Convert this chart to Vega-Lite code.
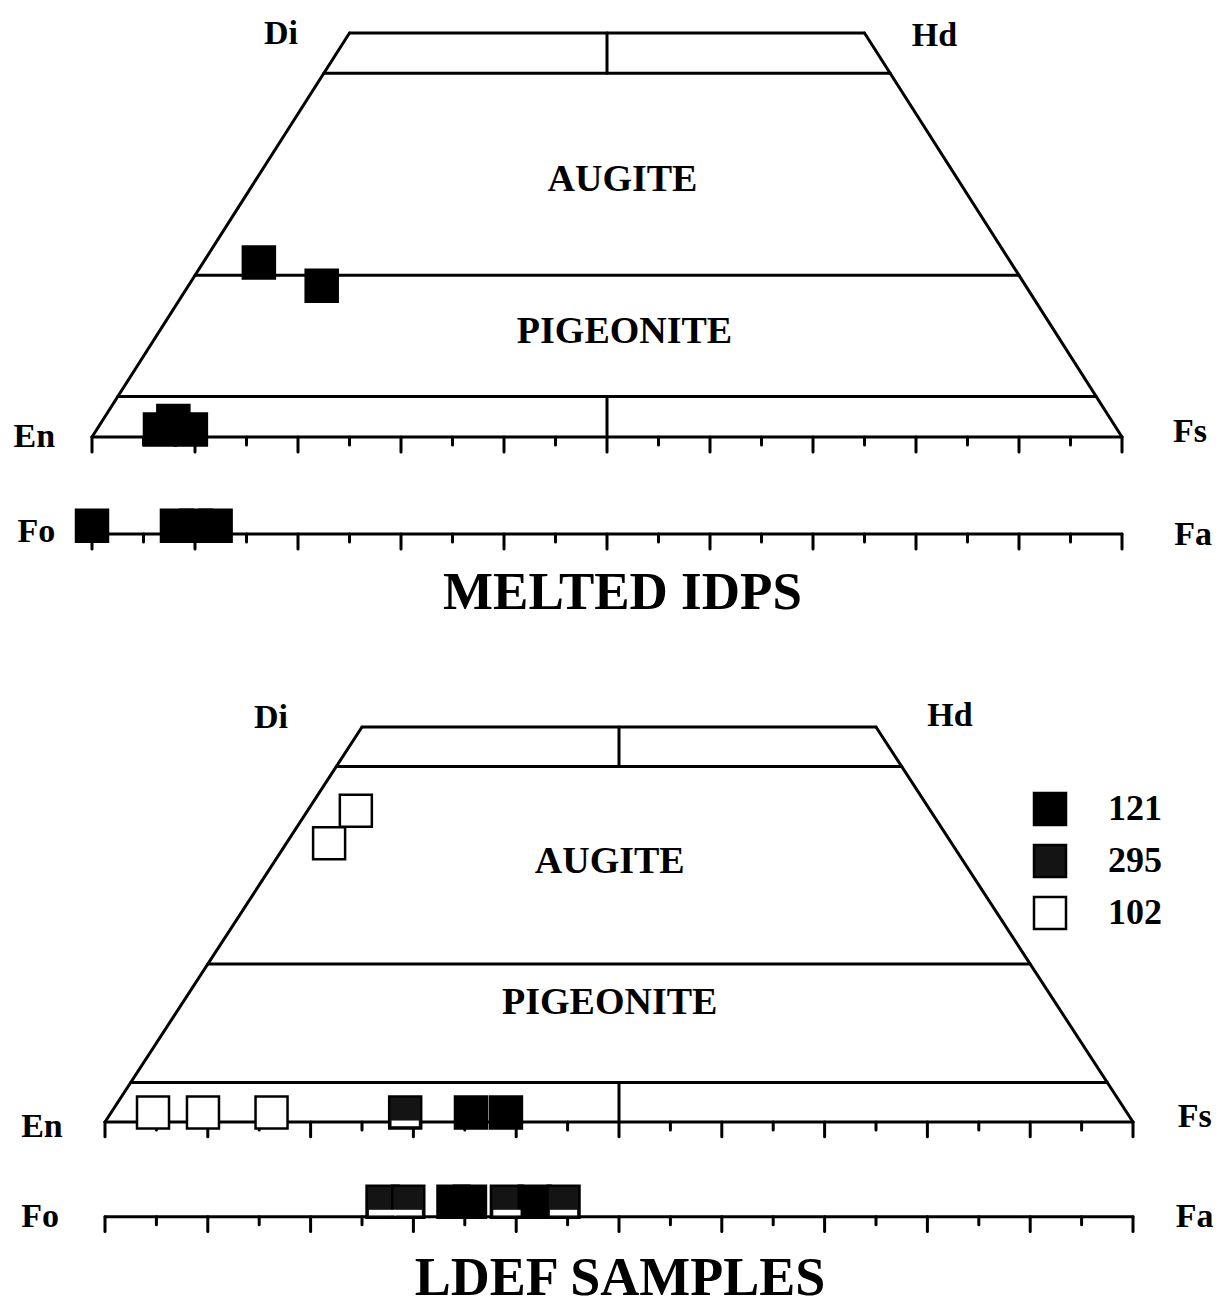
{
  "$schema": "https://vega.github.io/schema/vega-lite/v6.json",
  "padding": 0,
  "spacing": 0,
  "background": "white",
  "config": {"view": {"stroke": null}},
  "datasets": {
    "frame": [
      {"x": 0, "y": 0, "x2": 100, "y2": 0},
      {"x": 0, "y": 0, "x2": 25, "y2": 50},
      {"x": 25, "y": 50, "x2": 75, "y2": 50},
      {"x": 75, "y": 50, "x2": 100, "y2": 0},
      {"x": 22.5, "y": 45, "x2": 77.5, "y2": 45},
      {"x": 10, "y": 20, "x2": 90, "y2": 20},
      {"x": 2.5, "y": 5, "x2": 97.5, "y2": 5},
      {"x": 50, "y": 45, "x2": 50, "y2": 50},
      {"x": 50, "y": 5, "x2": 50, "y2": -1.85},
      {"x": 0, "y": -12, "x2": 100, "y2": -12},
      {"x": 0, "y": 0, "x2": 0, "y2": -1.85},
      {"x": 5, "y": 0, "x2": 5, "y2": -1.0},
      {"x": 10, "y": 0, "x2": 10, "y2": -1.85},
      {"x": 15, "y": 0, "x2": 15, "y2": -1.0},
      {"x": 20, "y": 0, "x2": 20, "y2": -1.85},
      {"x": 25, "y": 0, "x2": 25, "y2": -1.0},
      {"x": 30, "y": 0, "x2": 30, "y2": -1.85},
      {"x": 35, "y": 0, "x2": 35, "y2": -1.0},
      {"x": 40, "y": 0, "x2": 40, "y2": -1.85},
      {"x": 45, "y": 0, "x2": 45, "y2": -1.0},
      {"x": 55, "y": 0, "x2": 55, "y2": -1.0},
      {"x": 60, "y": 0, "x2": 60, "y2": -1.85},
      {"x": 65, "y": 0, "x2": 65, "y2": -1.0},
      {"x": 70, "y": 0, "x2": 70, "y2": -1.85},
      {"x": 75, "y": 0, "x2": 75, "y2": -1.0},
      {"x": 80, "y": 0, "x2": 80, "y2": -1.85},
      {"x": 85, "y": 0, "x2": 85, "y2": -1.0},
      {"x": 90, "y": 0, "x2": 90, "y2": -1.85},
      {"x": 95, "y": 0, "x2": 95, "y2": -1.0},
      {"x": 100, "y": 0, "x2": 100, "y2": -1.85},
      {"x": 0, "y": -12, "x2": 0, "y2": -13.85},
      {"x": 5, "y": -12, "x2": 5, "y2": -13.0},
      {"x": 10, "y": -12, "x2": 10, "y2": -13.85},
      {"x": 15, "y": -12, "x2": 15, "y2": -13.0},
      {"x": 20, "y": -12, "x2": 20, "y2": -13.85},
      {"x": 25, "y": -12, "x2": 25, "y2": -13.0},
      {"x": 30, "y": -12, "x2": 30, "y2": -13.85},
      {"x": 35, "y": -12, "x2": 35, "y2": -13.0},
      {"x": 40, "y": -12, "x2": 40, "y2": -13.85},
      {"x": 45, "y": -12, "x2": 45, "y2": -13.0},
      {"x": 50, "y": -12, "x2": 50, "y2": -13.85},
      {"x": 55, "y": -12, "x2": 55, "y2": -13.0},
      {"x": 60, "y": -12, "x2": 60, "y2": -13.85},
      {"x": 65, "y": -12, "x2": 65, "y2": -13.0},
      {"x": 70, "y": -12, "x2": 70, "y2": -13.85},
      {"x": 75, "y": -12, "x2": 75, "y2": -13.0},
      {"x": 80, "y": -12, "x2": 80, "y2": -13.85},
      {"x": 85, "y": -12, "x2": 85, "y2": -13.0},
      {"x": 90, "y": -12, "x2": 90, "y2": -13.85},
      {"x": 95, "y": -12, "x2": 95, "y2": -13.0},
      {"x": 100, "y": -12, "x2": 100, "y2": -13.85}
    ],
    "pts2": [
      {"sample": "102", "x": 4.67, "y": 1.2},
      {"sample": "102", "x": 9.53, "y": 1.2},
      {"sample": "102", "x": 16.2, "y": 1.2},
      {"sample": "295", "x": 29.2, "y": 1.2},
      {"sample": "121", "x": 35.6, "y": 1.2},
      {"sample": "121", "x": 39.0, "y": 1.2},
      {"sample": "102", "x": 24.4, "y": 39.4},
      {"sample": "102", "x": 21.8, "y": 35.3},
      {"sample": "295", "x": 27.0, "y": -10.1},
      {"sample": "295", "x": 29.5, "y": -10.1},
      {"sample": "121", "x": 33.9, "y": -10.1},
      {"sample": "121", "x": 35.5, "y": -10.1},
      {"sample": "295", "x": 39.1, "y": -10.1},
      {"sample": "121", "x": 41.8, "y": -10.1},
      {"sample": "295", "x": 44.6, "y": -10.1}
    ]
  },
  "vconcat": [
    {
      "width": 1228,
      "height": 654,
      "encoding": {
        "x": {"field": "x", "type": "quantitative", "scale": {"domain": [-8.932, 110.291], "nice": false, "zero": false}, "axis": null},
        "y": {"field": "y", "type": "quantitative", "scale": {"domain": [-26.86, 54.08], "nice": false, "zero": false}, "axis": null}
      },
      "layer": [
        {
          "data": {"name": "frame"},
          "mark": {"type": "rule", "color": "black", "strokeWidth": 3, "strokeCap": "round"},
          "encoding": {"x2": {"field": "x2"}, "y2": {"field": "y2"}}
        },
        {
          "data": {"values": [
            {"x": 16.2, "y": 21.6},
            {"x": 22.3, "y": 18.7},
            {"x": 6.6, "y": 0.93},
            {"x": 9.6, "y": 0.93},
            {"x": 7.9, "y": 1.98},
            {"x": 0, "y": -11.0},
            {"x": 8.25, "y": -11.0},
            {"x": 10.1, "y": -11.0},
            {"x": 12.0, "y": -11.0}
          ]},
          "mark": {"type": "point", "shape": "square", "filled": true, "fill": "black", "stroke": "black", "strokeWidth": 1.5, "opacity": 1, "size": 1089}
        },
        {
          "data": {"values": [
            {"label": "Di", "x": 18.35, "y": 49.9},
            {"label": "Hd", "x": 81.8, "y": 49.6},
            {"label": "En", "x": -5.6, "y": 0},
            {"label": "Fs", "x": 106.6, "y": 0.6},
            {"label": "Fo", "x": -5.4, "y": -11.8},
            {"label": "Fa", "x": 106.9, "y": -12.1}
          ]},
          "mark": {"type": "text", "font": "Liberation Serif", "fontWeight": "bold", "fontSize": 34, "color": "black", "align": "center", "baseline": "middle"},
          "encoding": {"text": {"field": "label"}}
        },
        {
          "data": {"values": [
            {"label": "AUGITE", "x": 51.5, "y": 31.8},
            {"label": "PIGEONITE", "x": 51.7, "y": 13.0}
          ]},
          "mark": {"type": "text", "font": "Liberation Serif", "fontWeight": "bold", "fontSize": 38, "color": "black", "align": "center", "baseline": "middle"},
          "encoding": {"text": {"field": "label"}}
        },
        {
          "data": {"values": [
            {"label": "MELTED IDPS", "x": 51.5, "y": -19.3}
          ]},
          "mark": {"type": "text", "font": "Liberation Serif", "fontWeight": "bold", "fontSize": 53, "color": "black", "align": "center", "baseline": "middle"},
          "encoding": {"text": {"field": "label"}}
        }
      ]
    },
    {
      "width": 1228,
      "height": 654,
      "encoding": {
        "x": {"field": "x", "type": "quantitative", "scale": {"domain": [-10.214, 109.241], "nice": false, "zero": false}, "axis": null},
        "y": {"field": "y", "type": "quantitative", "scale": {"domain": [-23.54, 59.24], "nice": false, "zero": false}, "axis": null}
      },
      "layer": [
        {
          "data": {"name": "frame"},
          "mark": {"type": "rule", "color": "black", "strokeWidth": 3, "strokeCap": "round"},
          "encoding": {"x2": {"field": "x2"}, "y2": {"field": "y2"}}
        },
        {
          "data": {"name": "pts2"},
          "mark": {"type": "point", "shape": "square", "filled": true, "stroke": "black", "strokeWidth": 2.5, "opacity": 1, "size": 1024},
          "encoding": {
            "fill": {
              "field": "sample", "type": "nominal",
              "scale": {"domain": ["121", "295", "102"], "range": ["black", "#141414", "white"]},
              "legend": {"orient": "none", "legendX": 1032, "legendY": 791, "title": null, "padding": 0, "symbolType": "square", "symbolSize": 1024, "symbolStrokeColor": "black", "symbolStrokeWidth": 2.5, "symbolOpacity": 1, "labelFont": "Liberation Serif", "labelFontSize": 36, "labelFontWeight": "bold", "labelColor": "black", "labelOffset": 40, "rowPadding": 10}
            }
          }
        },
        {
          "data": {"name": "pts2"},
          "transform": [{"filter": "datum.sample === '295'"}],
          "mark": {"type": "point", "shape": "M -0.85 0.5 L 0.85 0.5 L 0.85 0.85 L -0.85 0.85 Z", "filled": true, "fill": "white", "strokeWidth": 0, "opacity": 1, "size": 1024}
        },
        {
          "data": {"values": [
            {"label": "Di", "x": 16.15, "y": 51.1},
            {"label": "Hd", "x": 82.2, "y": 51.4},
            {"label": "En", "x": -6.13, "y": -0.63},
            {"label": "Fs", "x": 106.0, "y": 0.63},
            {"label": "Fo", "x": -6.3, "y": -12.0},
            {"label": "Fa", "x": 106.0, "y": -12.0}
          ]},
          "mark": {"type": "text", "font": "Liberation Serif", "fontWeight": "bold", "fontSize": 34, "color": "black", "align": "center", "baseline": "middle"},
          "encoding": {"text": {"field": "label"}}
        },
        {
          "data": {"values": [
            {"label": "AUGITE", "x": 49.1, "y": 32.9},
            {"label": "PIGEONITE", "x": 49.1, "y": 15.1}
          ]},
          "mark": {"type": "text", "font": "Liberation Serif", "fontWeight": "bold", "fontSize": 38, "color": "black", "align": "center", "baseline": "middle"},
          "encoding": {"text": {"field": "label"}}
        },
        {
          "data": {"values": [
            {"label": "LDEF SAMPLES", "x": 50.1, "y": -19.9}
          ]},
          "mark": {"type": "text", "font": "Liberation Serif", "fontWeight": "bold", "fontSize": 54, "color": "black", "align": "center", "baseline": "middle"},
          "encoding": {"text": {"field": "label"}}
        }
      ]
    }
  ]
}
